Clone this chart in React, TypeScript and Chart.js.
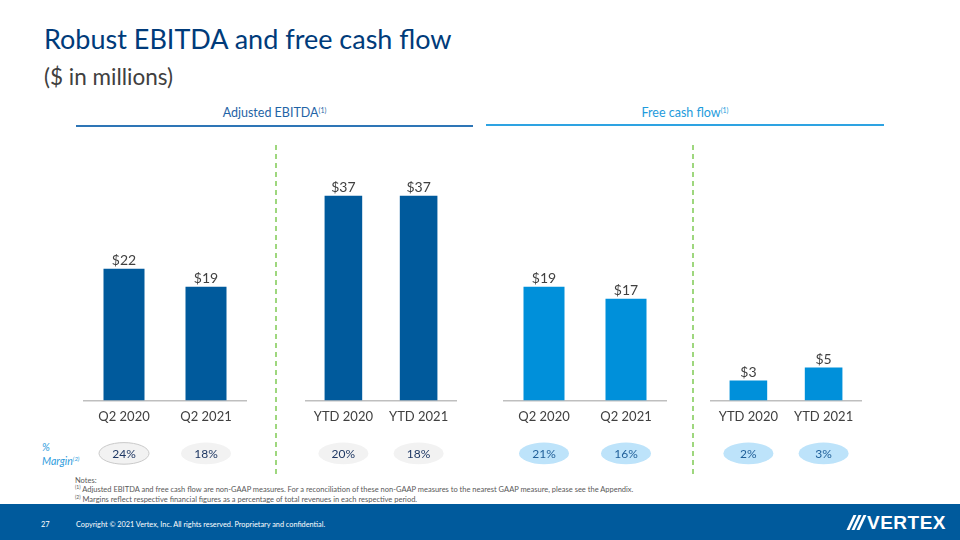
import React, { useEffect, useRef } from "react";
import { Chart, registerables } from "chart.js";

Chart.register(...registerables);

// ---- Data ----
const ebitdaQuarterCategories = ["Q2 2020", "Q2 2021"];
const ebitdaQuarterValues = [22, 19];
const ebitdaQuarterMargins = ["24%", "18%"];

const ebitdaYtdCategories = ["YTD 2020", "YTD 2021"];
const ebitdaYtdValues = [37, 37];
const ebitdaYtdMargins = ["20%", "18%"];

const fcfQuarterCategories = ["Q2 2020", "Q2 2021"];
const fcfQuarterValues = [19, 17];
const fcfQuarterMargins = ["21%", "16%"];

const fcfYtdCategories = ["YTD 2020", "YTD 2021"];
const fcfYtdValues = [3, 5];
const fcfYtdMargins = ["2%", "3%"];

const FONT = "Lato, 'Open Sans', sans-serif";
const EBITDA_BLUE = "#005A9C";
const FCF_BLUE = "#0090DA";

type Panel = {
  categories: string[];
  values: number[];
  margins: string[];
  color: string;
  yMax: number;
  left: number;
  width: number;
  pillFill: string;
  pillText: string;
  pillStroke: (i: number) => string | null;
};

const annoPlugin = {
  id: "barAnno",
  afterDraw(chart: any, _args: any, opts: any) {
    const ctx = chart.ctx;
    const meta = chart.getDatasetMeta(0);
    const xs = chart.scales.x;
    const area = chart.chartArea;
    ctx.save();
    meta.data.forEach((bar: any, i: number) => {
      const v = chart.data.datasets[0].data[i];
      ctx.font = `14px ${FONT}`;
      ctx.fillStyle = "#404040";
      ctx.textAlign = "center";
      ctx.textBaseline = "bottom";
      ctx.fillText(`$${v}`, bar.x, bar.y - 1);
      // pill
      const cx = xs.getPixelForValue(i);
      const cy = area.bottom + 53;
      ctx.beginPath();
      ctx.ellipse(cx, cy, 25, 10.8, 0, 0, Math.PI * 2);
      ctx.fillStyle = opts.pillFill;
      ctx.fill();
      const stroke = opts.pillStroke(i);
      if (stroke) {
        ctx.strokeStyle = stroke;
        ctx.lineWidth = 1;
        ctx.stroke();
      }
      ctx.fillStyle = opts.pillText;
      ctx.font = `12px ${FONT}`;
      ctx.textBaseline = "middle";
      ctx.fillText(opts.margins[i], cx, cy + 0.5);
    });
    ctx.restore();
  },
};

function BarPanel({ p }: { p: Panel }) {
  const ref = useRef<HTMLCanvasElement>(null);
  useEffect(() => {
    if (!ref.current) return;
    const chart = new Chart(ref.current, {
      type: "bar",
      data: {
        labels: p.categories,
        datasets: [
          {
            data: p.values,
            backgroundColor: p.color,
            barPercentage: 0.5,
            categoryPercentage: 1,
          },
        ],
      },
      options: {
        animation: false,
        responsive: false,
        maintainAspectRatio: false,
        layout: { padding: { top: 0, bottom: 36, left: 0, right: 0 } },
        plugins: {
          legend: { display: false },
          tooltip: { enabled: false },
          barAnno: {
            margins: p.margins,
            pillFill: p.pillFill,
            pillText: p.pillText,
            pillStroke: p.pillStroke,
          },
        } as any,
        scales: {
          x: {
            grid: { display: false, drawTicks: false },
            border: { display: true, color: "#bfbfbf", width: 1.5 },
            ticks: {
              color: "#404040",
              padding: 9,
              font: { family: FONT, size: 13 },
              maxRotation: 0,
            },
          },
          y: { display: false, min: 0, max: p.yMax },
        },
      },
      plugins: [annoPlugin],
    });
    return () => chart.destroy();
  }, []);
  return (
    <div style={{ position: "absolute", left: p.left, top: 140, width: p.width, height: 330 }}>
      <canvas ref={ref} width={p.width} height={330} style={{ width: p.width, height: 330 }} />
    </div>
  );
}

const grayPill = "#F2F2F2";
const bluePill = "#BDE3FA";

const panels: Panel[] = [
  {
    categories: ebitdaQuarterCategories,
    values: ebitdaQuarterValues,
    margins: ebitdaQuarterMargins,
    color: EBITDA_BLUE,
    yMax: 43.5,
    left: 83,
    width: 164,
    pillFill: grayPill,
    pillText: "#1F3864",
    pillStroke: (i) => (i === 0 ? "#C9C9C9" : null),
  },
  {
    categories: ebitdaYtdCategories,
    values: ebitdaYtdValues,
    margins: ebitdaYtdMargins,
    color: EBITDA_BLUE,
    yMax: 47.1,
    left: 305,
    width: 152,
    pillFill: grayPill,
    pillText: "#1F3864",
    pillStroke: () => null,
  },
  {
    categories: fcfQuarterCategories,
    values: fcfQuarterValues,
    margins: fcfQuarterMargins,
    color: FCF_BLUE,
    yMax: 43.5,
    left: 503,
    width: 164,
    pillFill: bluePill,
    pillText: "#1F5F99",
    pillStroke: () => null,
  },
  {
    categories: fcfYtdCategories,
    values: fcfYtdValues,
    margins: fcfYtdMargins,
    color: FCF_BLUE,
    yMax: 39.5,
    left: 710,
    width: 152,
    pillFill: bluePill,
    pillText: "#1F5F99",
    pillStroke: () => null,
  },
];

const abs = (s: React.CSSProperties): React.CSSProperties => ({ position: "absolute", ...s });

function Sup({ children, size }: { children: React.ReactNode; size: number }) {
  return (
    <span style={{ fontSize: size, position: "relative", top: -size * 0.6, lineHeight: 0 }}>{children}</span>
  );
}

function Dashed({ x }: { x: number }) {
  return (
    <div
      style={abs({
        left: x,
        top: 145,
        width: 1.5,
        height: 330,
        background: "repeating-linear-gradient(to bottom, #9ED77E 0 5px, transparent 5px 9px)",
      })}
    />
  );
}

export default function App() {
  return (
    <div
      style={abs({
        left: 0,
        top: 0,
        width: 960,
        height: 540,
        background: "#fff",
        overflow: "hidden",
        fontFamily: FONT,
      })}
    >
      <div style={abs({ left: 44, top: 22, fontSize: 27, color: "#003B7A", whiteSpace: "nowrap", lineHeight: "34px" })}>
        Robust EBITDA and free cash flow
      </div>
      <div style={abs({ left: 44, top: 62, fontSize: 22.5, color: "#404040", whiteSpace: "nowrap", lineHeight: "30px" })}>
        ($ in millions)
      </div>

      <div style={abs({ left: 76, width: 397, top: 104, textAlign: "center", fontSize: 12.5, color: "#1F64A6", lineHeight: "18px" })}>
        Adjusted EBITDA<Sup size={7}>(1)</Sup>
      </div>
      <div style={abs({ left: 76, width: 397, top: 125, height: 2, background: "#2E75B6" })} />

      <div style={abs({ left: 486, width: 398, top: 104, textAlign: "center", fontSize: 12.5, color: "#1E9BDC", lineHeight: "18px" })}>
        Free cash flow<Sup size={7}>(1)</Sup>
      </div>
      <div style={abs({ left: 486, width: 398, top: 124, height: 2, background: "#2EA3E2" })} />

      <Dashed x={275} />
      <Dashed x={692} />

      {panels.map((p, i) => (
        <BarPanel key={i} p={p} />
      ))}

      <div style={abs({ left: 42, top: 440, fontSize: 10.5, fontStyle: "italic", color: "#2E9BDC", lineHeight: "14px" })}>
        %<br />
        Margin<Sup size={6}>(2)</Sup>
      </div>

      <div style={abs({ left: 75, top: 475.5, fontSize: 7.5, color: "#595959", lineHeight: "9.5px", whiteSpace: "nowrap" })}>
        Notes:
        <br />
        <Sup size={5}>(1)</Sup> Adjusted EBITDA and free cash flow are non-GAAP measures. For a reconciliation of these non-GAAP measures to the nearest GAAP measure, please see the Appendix.
        <br />
        <Sup size={5}>(2)</Sup> Margins reflect respective financial figures as a percentage of total revenues in each respective period.
      </div>

      <div style={abs({ left: 0, top: 504, width: 960, height: 36, background: "#005A9C" })}>
        <div style={abs({ left: 41, top: 16, fontSize: 7.5, color: "#fff", lineHeight: "10px" })}>27</div>
        <div style={abs({ left: 76, top: 16, fontSize: 7.3, color: "#fff", lineHeight: "10px", whiteSpace: "nowrap" })}>
          Copyright © 2021 Vertex, Inc. All rights reserved. Proprietary and confidential.
        </div>
        <div style={abs({ left: 847, top: 11, width: 20, height: 15 })}>
          {[0, 5, 10].map((o) => (
            <div
              key={o}
              style={abs({ left: o + 3, top: 0, width: 3, height: 15, background: "#fff", transform: "skewX(-25deg)" })}
            />
          ))}
        </div>
        <div
          style={abs({
            left: 867,
            top: 8,
            fontSize: 19,
            fontWeight: 900,
            color: "#fff",
            lineHeight: "22px",
            fontFamily: "'Liberation Sans', Arial, sans-serif",
            letterSpacing: 0.5,
          })}
        >
          VERTEX
        </div>
      </div>
    </div>
  );
}
